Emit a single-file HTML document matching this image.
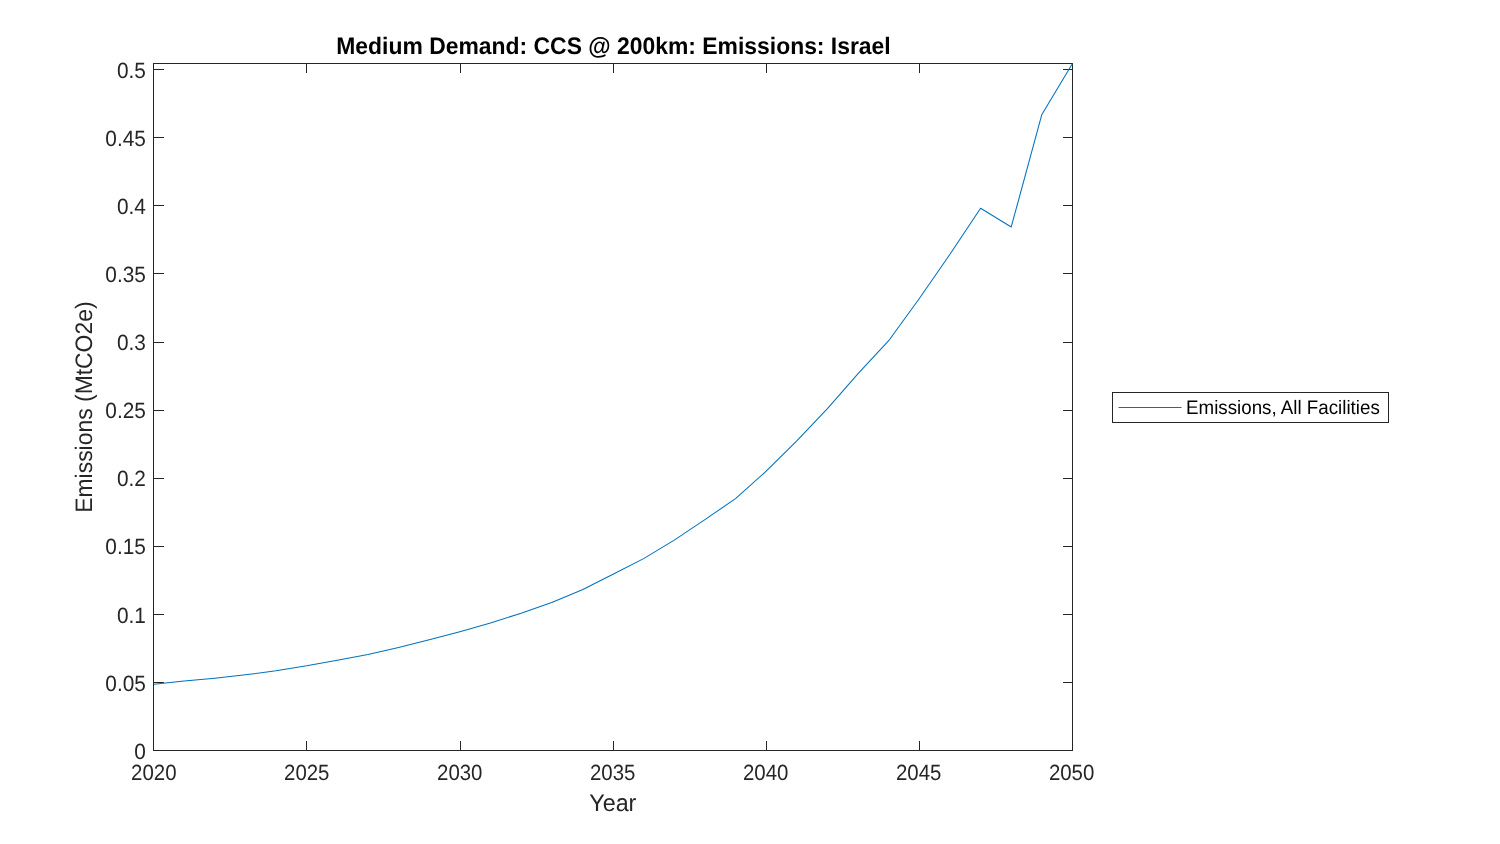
<!DOCTYPE html>
<html>
<head>
<meta charset="utf-8">
<title>Medium Demand: CCS @ 200km: Emissions: Israel</title>
<style>
  html, body { margin: 0; padding: 0; background: #ffffff; }
  body { width: 1500px; height: 844px; overflow: hidden; }
  svg { display: block; will-change: transform; }
  text { font-family: "Liberation Sans", sans-serif; text-rendering: geometricPrecision; }
</style>
</head>
<body>
<svg width="1500" height="844" viewBox="0 0 1500 844">
  <rect x="0" y="0" width="1500" height="844" fill="#ffffff"/>
  <!-- axes box + ticks -->
  <g stroke="#262626" stroke-width="1" fill="none">
    <rect x="153.5" y="63.5" width="919.0" height="687.0"/>
    <line x1="306.5" y1="750.5" x2="306.5" y2="741"/>
    <line x1="306.5" y1="63.5" x2="306.5" y2="73"/>
    <line x1="460.5" y1="750.5" x2="460.5" y2="741"/>
    <line x1="460.5" y1="63.5" x2="460.5" y2="73"/>
    <line x1="613.5" y1="750.5" x2="613.5" y2="741"/>
    <line x1="613.5" y1="63.5" x2="613.5" y2="73"/>
    <line x1="766.5" y1="750.5" x2="766.5" y2="741"/>
    <line x1="766.5" y1="63.5" x2="766.5" y2="73"/>
    <line x1="919.5" y1="750.5" x2="919.5" y2="741"/>
    <line x1="919.5" y1="63.5" x2="919.5" y2="73"/>
    <line x1="153.5" y1="682.5" x2="164" y2="682.5"/>
    <line x1="1072.5" y1="682.5" x2="1063" y2="682.5"/>
    <line x1="153.5" y1="614.5" x2="164" y2="614.5"/>
    <line x1="1072.5" y1="614.5" x2="1063" y2="614.5"/>
    <line x1="153.5" y1="546.5" x2="164" y2="546.5"/>
    <line x1="1072.5" y1="546.5" x2="1063" y2="546.5"/>
    <line x1="153.5" y1="478.5" x2="164" y2="478.5"/>
    <line x1="1072.5" y1="478.5" x2="1063" y2="478.5"/>
    <line x1="153.5" y1="410.5" x2="164" y2="410.5"/>
    <line x1="1072.5" y1="410.5" x2="1063" y2="410.5"/>
    <line x1="153.5" y1="342.5" x2="164" y2="342.5"/>
    <line x1="1072.5" y1="342.5" x2="1063" y2="342.5"/>
    <line x1="153.5" y1="273.5" x2="164" y2="273.5"/>
    <line x1="1072.5" y1="273.5" x2="1063" y2="273.5"/>
    <line x1="153.5" y1="205.5" x2="164" y2="205.5"/>
    <line x1="1072.5" y1="205.5" x2="1063" y2="205.5"/>
    <line x1="153.5" y1="137.5" x2="164" y2="137.5"/>
    <line x1="1072.5" y1="137.5" x2="1063" y2="137.5"/>
    <line x1="153.5" y1="69.5" x2="164" y2="69.5"/>
    <line x1="1072.5" y1="69.5" x2="1063" y2="69.5"/>
  </g>
  <!-- data line -->
  <polyline points="154.00,684.15 184.13,681.10 214.77,678.20 245.40,674.80 276.03,670.80 306.67,665.84 337.30,660.16 367.93,654.40 398.57,647.40 429.20,639.80 459.83,631.64 490.47,623.00 521.10,613.24 551.73,602.60 582.37,589.80 613.00,574.30 643.63,558.60 674.27,540.10 704.90,519.65 735.53,498.60 766.17,471.20 796.80,440.80 827.43,408.70 858.07,373.70 888.70,340.70 919.33,298.50 949.97,254.30 980.60,208.27 1011.23,226.93 1041.87,114.40 1072.50,63.50" fill="none" stroke="#0072BD" stroke-width="1.05" stroke-linejoin="round"/>
  <!-- tick labels -->
  <g fill="#262626" font-size="20.83px">
    <text transform="translate(145.90,759.00) scale(1,1.06)" text-anchor="end">0</text>
    <text transform="translate(145.90,691.20) scale(1,1.06)" text-anchor="end">0.05</text>
    <text transform="translate(145.90,623.20) scale(1,1.06)" text-anchor="end">0.1</text>
    <text transform="translate(145.90,554.40) scale(1,1.06)" text-anchor="end">0.15</text>
    <text transform="translate(145.90,486.40) scale(1,1.06)" text-anchor="end">0.2</text>
    <text transform="translate(145.90,418.20) scale(1,1.06)" text-anchor="end">0.25</text>
    <text transform="translate(145.90,350.30) scale(1,1.06)" text-anchor="end">0.3</text>
    <text transform="translate(145.90,282.20) scale(1,1.06)" text-anchor="end">0.35</text>
    <text transform="translate(145.90,214.20) scale(1,1.06)" text-anchor="end">0.4</text>
    <text transform="translate(145.90,146.20) scale(1,1.06)" text-anchor="end">0.45</text>
    <text transform="translate(145.90,78.20) scale(1,1.06)" text-anchor="end">0.5</text>
    <text transform="translate(153.80,780.30) scale(0.98,1.06)" text-anchor="middle">2020</text>
    <text transform="translate(306.77,780.30) scale(0.98,1.06)" text-anchor="middle">2025</text>
    <text transform="translate(459.74,780.30) scale(0.98,1.06)" text-anchor="middle">2030</text>
    <text transform="translate(612.71,780.30) scale(0.98,1.06)" text-anchor="middle">2035</text>
    <text transform="translate(765.68,780.30) scale(0.98,1.06)" text-anchor="middle">2040</text>
    <text transform="translate(918.65,780.30) scale(0.98,1.06)" text-anchor="middle">2045</text>
    <text transform="translate(1071.62,780.30) scale(0.98,1.06)" text-anchor="middle">2050</text>
  </g>
  <!-- title -->
  <text transform="translate(613.50,54.00) scale(1,1.04)" text-anchor="middle" font-size="22.92px" font-weight="bold" fill="#000000">Medium Demand: CCS @ 200km: Emissions: Israel</text>
  <!-- axis labels -->
  <text transform="translate(612.80,810.60) scale(1,1.03)" text-anchor="middle" font-size="23.3px" fill="#262626">Year</text>
  <text transform="translate(91.80,407.10) rotate(-90) scale(1,1.04)" text-anchor="middle" font-size="22.92px" fill="#262626">Emissions (MtCO2e)</text>
  <!-- legend -->
  <rect x="1112.5" y="392.5" width="276" height="30" fill="#ffffff" stroke="#262626" stroke-width="1"/>
  <line x1="1118.5" y1="407.5" x2="1181.5" y2="407.5" stroke="#0072BD" stroke-width="1.05"/>
  <text transform="translate(1186.00,414.00) scale(1,1.04)" text-anchor="start" font-size="18.75px" fill="#000000">Emissions, All Facilities</text>
</svg>
</body>
</html>
